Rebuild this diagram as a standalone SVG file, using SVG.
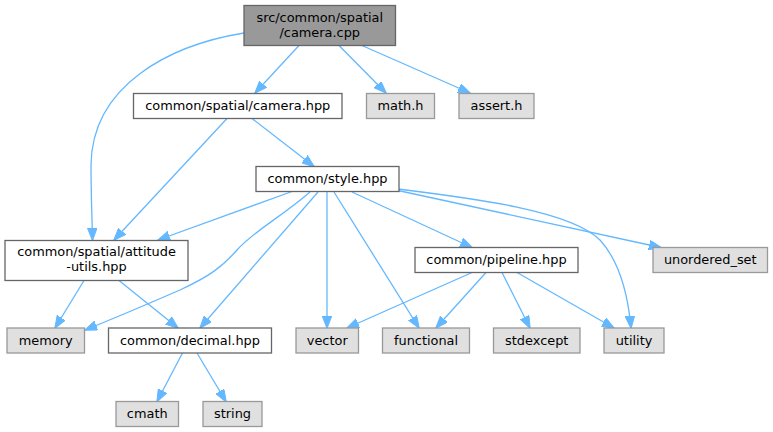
<svg xmlns="http://www.w3.org/2000/svg" width="773" height="432" viewBox="0 0 773 432">
<style>
  .n rect { fill: #ffffff; stroke: #666666; stroke-width: 1.3; }
  .x rect { fill: #e0e0e0; stroke: #999999; stroke-width: 1.3; }
  .r rect { fill: #999999; stroke: #666666; stroke-width: 1.3; }
  text { font-family: "DejaVu Sans", "Liberation Sans", sans-serif; font-size: 12.9px; fill: #000000; text-anchor: middle; }
  #edges path { fill: none; stroke: #63b8ff; stroke-width: 1.3; marker-end: url(#ah); }
</style>
<defs>
  <marker id="ah" markerUnits="userSpaceOnUse" markerWidth="13" markerHeight="10" refX="12" refY="4.75" orient="auto">
    <path d="M0,0 L12.5,4.75 L0,9.5 z" fill="#63b8ff" stroke="#63b8ff" stroke-width="1"/>
  </marker>
</defs>
<rect width="773" height="432" fill="#ffffff"/>
<g id="edges">
  <path d="M299,45.5 L255,93"/>
  <path d="M244,33 C170,45 92,85 91,165 C91,195 92,215 92.5,240"/>
  <path d="M339,45.5 L386,93"/>
  <path d="M362,45.5 L470,93"/>
  <path d="M252,118.5 L314,166.5"/>
  <path d="M227,118.5 L114,240"/>
  <path d="M292,191.5 L158,240"/>
  <path d="M310,192 C280,218 255,230 237,250 C222,267 210,276 180,290 C150,303 115,318 85,330"/>
  <path d="M318,192 L200,328"/>
  <path d="M327,192 L327,328"/>
  <path d="M334,192 L419,328"/>
  <path d="M352,192 L472,247.5"/>
  <path d="M398,190.5 L661,247.5"/>
  <path d="M398,189 C470,198 570,210 600,240 C620,262 628,295 631,328"/>
  <path d="M472,272.5 L347,328"/>
  <path d="M486,272.5 L436,328"/>
  <path d="M502,272.5 L530,328"/>
  <path d="M517,272.5 L614,328"/>
  <path d="M84,280.5 L55,328"/>
  <path d="M119,280.5 L178,328"/>
  <path d="M182.5,353 L157,401.5"/>
  <path d="M197,353 L226,401.5"/>
</g>
<g id="node-root" class="r"><rect x="244" y="5.5" width="151.5" height="40"/><text x="319.75" y="21.5">src/common/spatial</text><text x="319.75" y="36.5">/camera.cpp</text></g>
<g id="node-camera-hpp" class="n"><rect x="133.5" y="93.5" width="208.5" height="25"/><text x="237.75" y="110.3">common/spatial/camera.hpp</text></g>
<g id="node-math-h" class="x"><rect x="366.5" y="93.5" width="68" height="25"/><text x="400.5" y="110.3">math.h</text></g>
<g id="node-assert-h" class="x"><rect x="459" y="93.5" width="75" height="25"/><text x="496.5" y="110.3">assert.h</text></g>
<g id="node-style-hpp" class="n"><rect x="256" y="166.5" width="143" height="25"/><text x="327.5" y="183.3">common/style.hpp</text></g>
<g id="node-attitude" class="n"><rect x="5" y="240.5" width="183" height="40"/><text x="96.5" y="256">common/spatial/attitude</text><text x="96.5" y="271">-utils.hpp</text></g>
<g id="node-pipeline" class="n"><rect x="415" y="247.5" width="163" height="25"/><text x="496.5" y="264.3">common/pipeline.hpp</text></g>
<g id="node-unordered-set" class="x"><rect x="653" y="247.5" width="114.5" height="25"/><text x="710.25" y="264.3">unordered_set</text></g>
<g id="node-memory" class="x"><rect x="7" y="328" width="77.5" height="25"/><text x="45.75" y="344.8">memory</text></g>
<g id="node-decimal" class="n"><rect x="108.5" y="328" width="163" height="25"/><text x="190" y="344.8">common/decimal.hpp</text></g>
<g id="node-vector" class="x"><rect x="296" y="328" width="62.5" height="25"/><text x="327.25" y="344.8">vector</text></g>
<g id="node-functional" class="x"><rect x="382.5" y="328" width="87" height="25"/><text x="426" y="344.8">functional</text></g>
<g id="node-stdexcept" class="x"><rect x="493.5" y="328" width="86.5" height="25"/><text x="536.75" y="344.8">stdexcept</text></g>
<g id="node-utility" class="x"><rect x="604" y="328" width="60" height="25"/><text x="634" y="344.8">utility</text></g>
<g id="node-cmath" class="x"><rect x="116" y="401.5" width="62.5" height="25"/><text x="147.25" y="418.3">cmath</text></g>
<g id="node-string" class="x"><rect x="203" y="401.5" width="59" height="25"/><text x="232.5" y="418.3">string</text></g>
</svg>
